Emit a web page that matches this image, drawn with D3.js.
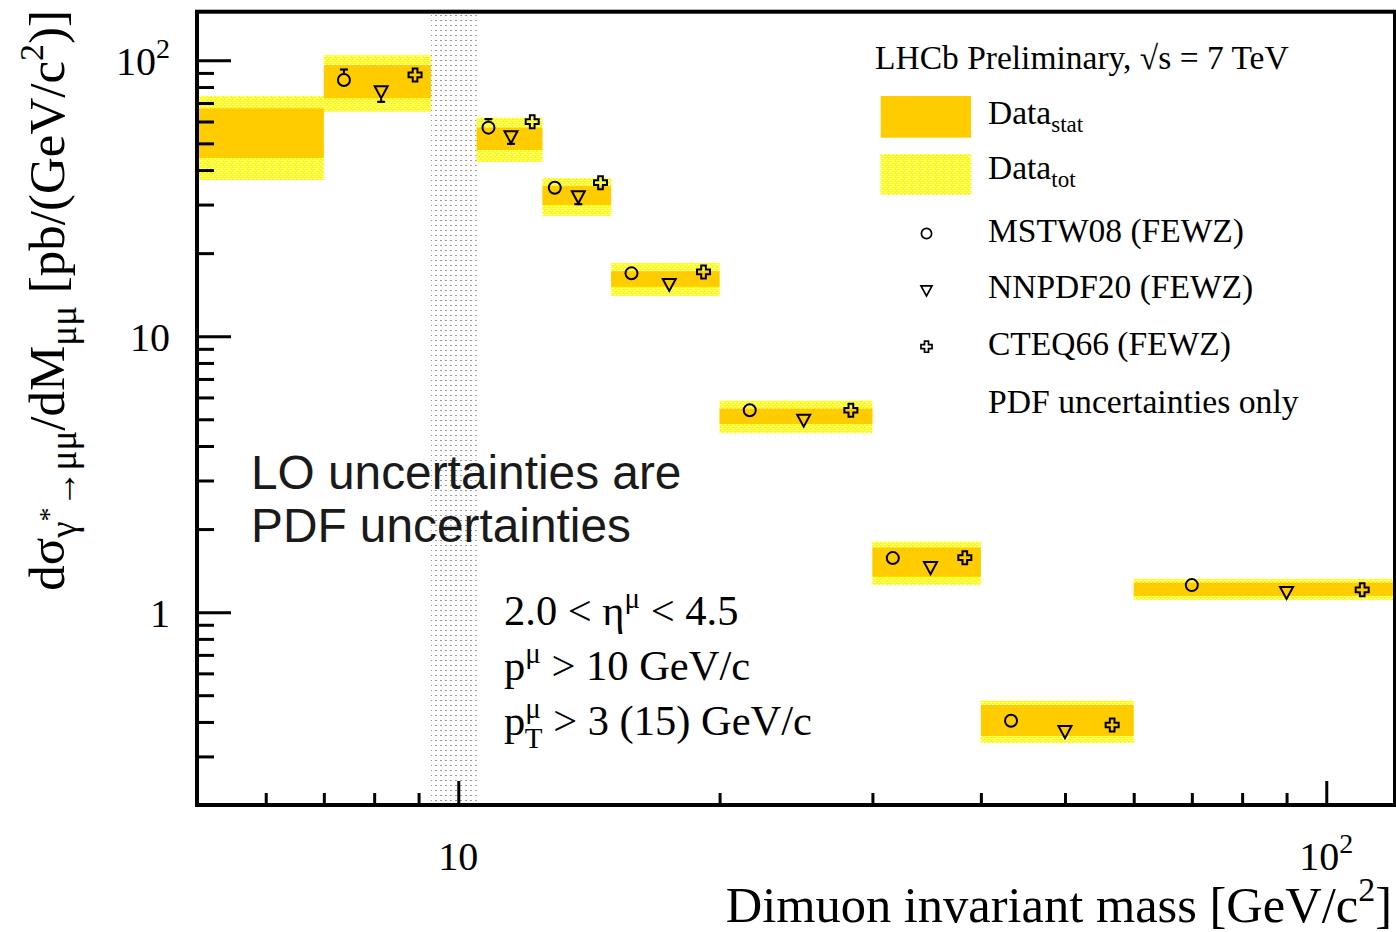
<!DOCTYPE html>
<html><head><meta charset="utf-8">
<script src="https://cdn.jsdelivr.net/npm/d3@7"></script>
<style>body{margin:0;background:#fff}svg{display:block}</style>
</head><body>
<svg id="c" width="1396" height="932"></svg>
<script>
// ---------------- data ----------------
const binLo  = [5, 7, 10.5, 12.5, 15, 20, 30, 40, 60];
const binHi  = [7, 9.3, 12.5, 15, 20, 30, 40, 60, 120];
const totLo  = [36.8, 65.1, 42.8, 27.3, 14.0, 4.45, 1.253, 0.335, 1.108];
const totHi  = [74.3, 104.3, 61.9, 37.4, 18.4, 5.83, 1.80, 0.477, 1.317];
const statLo = [44.2, 72.8, 47.3, 29.9, 15.1, 4.80, 1.343, 0.356, 1.146];
const statHi = [67.0, 96.1, 57.0, 35.0, 17.2, 5.47, 1.714, 0.461, 1.280];
const mstw   = [null, 84.8, 57.0, 34.5, 16.9, 5.39, 1.57, 0.404, 1.253];
const mstwUp = [null, 7.8, 4.2, 2.0, 0.6, 0.2, 0.05, 0.012, 0.04];
const mstwDn = [null, 4.8, 2.0, 1.0, 0.6, 0.2, 0.05, 0.012, 0.04];
const nnpdf   = [null, 76.9, 52.8, 32.0, 15.4, 4.96, 1.45, 0.369, 1.178];
const nnpdfUp = [null, 3.5, 2.0, 1.0, 0.5, 0.15, 0.04, 0.01, 0.03];
const nnpdfDn = [null, 6.2, 3.0, 1.9, 0.5, 0.15, 0.04, 0.01, 0.03];
const cteq   = [null, 88.5, 59.9, 36.0, 17.1, 5.39, 1.575, 0.39, 1.205];
const cteqUp = [null, 4.0, 2.5, 1.2, 0.5, 0.15, 0.04, 0.01, 0.03];
const cteqDn = [null, 4.0, 2.5, 1.2, 0.5, 0.15, 0.04, 0.01, 0.03];
const vetoLo = 9.3, vetoHi = 10.5;
const xMajor = [10, 100];
const xMinor = [6, 7, 8, 9, 20, 30, 40, 50, 60, 70, 80, 90];
const xTickBase = ["10", "10"];
const xTickExp  = ["", "2"];
const yMajor = [1, 10, 100];
const yMinor = [0.2,0.3,0.4,0.5,0.6,0.7,0.8,0.9,2,3,4,5,6,7,8,9,20,30,40,50,60,70,80,90];
const yTickBase = ["1", "10", "10"];
const yTickExp  = ["", "", "2"];
const legendLabels = ["MSTW08 (FEWZ)", "NNPDF20 (FEWZ)", "CTEQ66 (FEWZ)"];

// ---------------- setup ----------------
const SERIF = "'Liberation Serif','Times New Roman',serif";
const SANS = "'Liberation Sans',Arial,sans-serif";
const svg = d3.select("#c");
const x = d3.scaleLog().domain([5, 120]).range([197, 1395]);
const y = d3.scaleLog().domain([0.2, 150]).range([805, 11.7]);

const defs = svg.append("defs");
const pTot = defs.append("pattern").attr("id", "tot").attr("patternUnits", "userSpaceOnUse")
  .attr("width", 4).attr("height", 4);
pTot.append("rect").attr("width", 4).attr("height", 4).attr("fill", "#ffff00");
pTot.append("rect").attr("x", 0).attr("y", 0).attr("width", 2).attr("height", 1).attr("fill", "#fff");
pTot.append("rect").attr("x", 2).attr("y", 2).attr("width", 2).attr("height", 1).attr("fill", "#fff");
const pVeto = defs.append("pattern").attr("id", "veto").attr("patternUnits", "userSpaceOnUse")
  .attr("width", 5).attr("height", 5);
pVeto.append("rect").attr("width", 2).attr("height", 1).attr("fill", "#999");

// veto band
svg.append("rect")
  .attr("x", x(vetoLo)).attr("width", x(vetoHi) - x(vetoLo))
  .attr("y", y.range()[1]).attr("height", y.range()[0] - y.range()[1])
  .attr("fill", "url(#veto)");

// bands
const bins = d3.range(binLo.length);
svg.append("g").selectAll("rect").data(bins).join("rect")
  .attr("x", i => x(binLo[i])).attr("width", i => x(binHi[i]) - x(binLo[i]))
  .attr("y", i => y(totHi[i])).attr("height", i => y(totLo[i]) - y(totHi[i]))
  .attr("fill", "url(#tot)");
svg.append("g").selectAll("rect").data(bins).join("rect")
  .attr("x", i => x(binLo[i])).attr("width", i => x(binHi[i]) - x(binLo[i]))
  .attr("y", i => y(statHi[i])).attr("height", i => y(statLo[i]) - y(statHi[i]))
  .attr("fill", "#ffcc00");

// markers
function circlePath(s){ const r=s; return `M${-r},0A${r},${r} 0 1,0 ${r},0A${r},${r} 0 1,0 ${-r},0Z`; }
function triPath(s){ return `M${-s},${-s*0.85}L${s},${-s*0.85}L0,${s}Z`; }
function crossPath(s){ const a=s, b=s*0.36;
  return `M${-b},${-a}H${b}V${-b}H${a}V${b}H${b}V${a}H${-b}V${b}H${-a}V${-b}H${-b}Z`; }
const models = [
  {v: mstw, up: mstwUp, dn: mstwDn, frac: 1/6, path: circlePath, s: 6, hu: 7, hd: 7},
  {v: nnpdf, up: nnpdfUp, dn: nnpdfDn, frac: 1/2, path: triPath, s: 6.5, hu: 10, hd: 6.5},
  {v: cteq, up: cteqUp, dn: cteqDn, frac: 5/6, path: crossPath, s: 6.5, hu: 7, hd: 7}
];
const mg = svg.append("g");
models.forEach(m => {
  bins.filter(i => m.v[i] != null).forEach(i => {
    const xv = binLo[i] + (binHi[i] - binLo[i]) * m.frac;
    const cx = x(xv), cy = y(m.v[i]);
    const yt = y(m.v[i] + m.up[i]), yb = y(m.v[i] - m.dn[i]);
    if (yt < cy - m.hu) {
      mg.append("line").attr("x1", cx).attr("x2", cx).attr("y1", cy - m.hu).attr("y2", yt).attr("stroke", "#000").attr("stroke-width", 2);
      mg.append("line").attr("x1", cx - 4).attr("x2", cx + 4).attr("y1", yt).attr("y2", yt).attr("stroke", "#000").attr("stroke-width", 2.2);
    }
    if (yb > cy + m.hd) {
      mg.append("line").attr("x1", cx).attr("x2", cx).attr("y1", cy + m.hd).attr("y2", yb).attr("stroke", "#000").attr("stroke-width", 2);
      mg.append("line").attr("x1", cx - 4).attr("x2", cx + 4).attr("y1", yb).attr("y2", yb).attr("stroke", "#000").attr("stroke-width", 2.2);
    }
    mg.append("path").attr("d", m.path(m.s)).attr("transform", `translate(${cx},${cy})`)
      .attr("fill", "none").attr("stroke", "#000").attr("stroke-width", 2);
  });
});

// frame
svg.append("rect").attr("x", 197).attr("y", 11.7).attr("width", 1198).attr("height", 793.3)
  .attr("fill", "none").attr("stroke", "#000").attr("stroke-width", 4);

// axes
function styleAxis(g){ g.select(".domain").remove(); g.selectAll(".tick line").attr("stroke", "#000").attr("stroke-width", 3); g.selectAll(".tick text").remove(); }
svg.append("g").attr("transform", "translate(0,805)")
  .call(d3.axisBottom(x).tickValues(xMajor).tickSizeInner(-24).tickSizeOuter(0).tickFormat("")).call(styleAxis);
svg.append("g").attr("transform", "translate(0,805)")
  .call(d3.axisBottom(x).tickValues(xMinor).tickSizeInner(-12).tickSizeOuter(0).tickFormat("")).call(styleAxis);
svg.append("g").attr("transform", "translate(197,0)")
  .call(d3.axisLeft(y).tickValues(yMajor).tickSizeInner(-34).tickSizeOuter(0).tickFormat("")).call(styleAxis);
svg.append("g").attr("transform", "translate(197,0)")
  .call(d3.axisLeft(y).tickValues(yMinor).tickSizeInner(-17).tickSizeOuter(0).tickFormat("")).call(styleAxis);

// tick labels
xMajor.forEach((v, i) => {
  const t = svg.append("text").attr("x", x(v)).attr("y", 870).attr("text-anchor", "middle")
    .attr("font-family", SERIF).attr("font-size", 40).text(xTickBase[i]);
  if (xTickExp[i]) t.append("tspan").attr("font-size", 28).attr("dy", -17).text(xTickExp[i]);
});
yMajor.forEach((v, i) => {
  const t = svg.append("text").attr("x", 170).attr("y", y(v) + 15).attr("text-anchor", "end")
    .attr("font-family", SERIF).attr("font-size", 40).text(yTickBase[i]);
  if (yTickExp[i]) t.append("tspan").attr("font-size", 28).attr("dy", -17).text(yTickExp[i]);
});

// axis titles
const xt = svg.append("text").attr("x", 1392).attr("y", 922).attr("text-anchor", "end")
  .attr("font-family", SERIF).attr("font-size", 50.5);
xt.append("tspan").text("Dimuon invariant mass [GeV/c");
xt.append("tspan").attr("font-size", 34).attr("dy", -21).text("2");
xt.append("tspan").attr("dy", 21).text("]");

const yt = svg.append("text").attr("transform", "translate(64,10) rotate(-90)").attr("text-anchor", "end")
  .attr("font-family", SERIF).attr("font-size", 51);
yt.append("tspan").text("dσ");
yt.append("tspan").attr("font-size", 37).attr("dy", 12).text("γ");
yt.append("tspan").attr("font-size", 28).attr("dy", -18).text("*");
yt.append("tspan").attr("font-size", 37).attr("dy", 18).text("→μμ");
yt.append("tspan").attr("dy", -12).text("/dM");
yt.append("tspan").attr("font-size", 37).attr("dy", 12).text("μμ");
yt.append("tspan").attr("dy", -12).text(" [pb/(GeV/c");
yt.append("tspan").attr("font-size", 34).attr("dy", -21).text("2");
yt.append("tspan").attr("dy", 21).text(")]");

// header + legend
svg.append("text").attr("x", 875).attr("y", 69).attr("font-family", SERIF).attr("font-size", 33.5)
  .text("LHCb Preliminary, √s = 7 TeV");
svg.append("rect").attr("x", 880.7).attr("y", 96).attr("width", 90.3).attr("height", 41.7).attr("fill", "#ffcc00");
svg.append("rect").attr("x", 880.7).attr("y", 154).attr("width", 90.3).attr("height", 41).attr("fill", "url(#tot)");
[["Data", "stat", 124.3], ["Data", "tot", 179.3]].forEach(d => {
  const t = svg.append("text").attr("x", 988).attr("y", d[2]).attr("font-family", SERIF).attr("font-size", 33.5).text(d[0]);
  t.append("tspan").attr("font-size", 23).attr("dy", 8).text(d[1]);
});
const legY = [241.7, 298.3, 355];
const legMarkY = [233.5, 290.5, 346.7];
models.forEach((m, i) => {
  svg.append("path").attr("d", m.path(m.s * 0.85)).attr("transform", `translate(926.5,${legMarkY[i]})`)
    .attr("fill", "none").attr("stroke", "#000").attr("stroke-width", 1.7);
  svg.append("text").attr("x", 988).attr("y", legY[i]).attr("font-family", SERIF).attr("font-size", 33.5).text(legendLabels[i]);
});
svg.append("text").attr("x", 988).attr("y", 413.3).attr("font-family", SERIF).attr("font-size", 33.7).text("PDF uncertainties only");

// annotations
svg.append("text").attr("x", 251).attr("y", 489.3).attr("font-family", SANS).attr("font-size", 47.8).attr("fill", "#1a1a1a").text("LO uncertainties are");
svg.append("text").attr("x", 251).attr("y", 541.7).attr("font-family", SANS).attr("font-size", 47.8).attr("fill", "#1a1a1a").text("PDF uncertainties");

const c1 = svg.append("text").attr("x", 504).attr("y", 625).attr("font-family", SERIF).attr("font-size", 42.5);
c1.append("tspan").text("2.0 < η");
c1.append("tspan").attr("font-size", 29).attr("dy", -17).text("μ");
c1.append("tspan").attr("dy", 17).text(" < 4.5");
const c2 = svg.append("text").attr("x", 504).attr("y", 680).attr("font-family", SERIF).attr("font-size", 42.5);
c2.append("tspan").text("p");
c2.append("tspan").attr("font-size", 29).attr("dy", -17).text("μ");
c2.append("tspan").attr("dy", 17).text(" > 10 GeV/c");
const c3 = svg.append("text").attr("x", 504).attr("y", 735).attr("font-family", SERIF).attr("font-size", 42.5);
c3.append("tspan").text("p");
c3.append("tspan").attr("font-size", 29).attr("dy", -17).text("μ");
c3.append("tspan").attr("font-size", 29).attr("dx", -16).attr("dy", 30).text("T");
c3.append("tspan").attr("dy", -13).text(" > 3 (15) GeV/c");
</script>
</body></html>
